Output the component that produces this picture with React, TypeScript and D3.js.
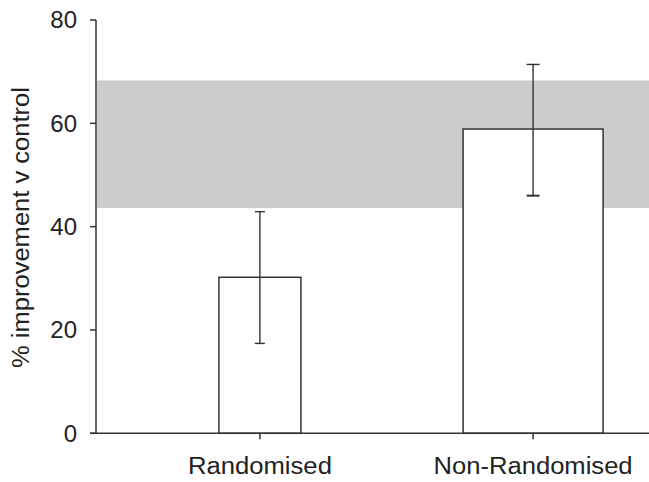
import React from "react";
import * as d3 from "d3";

const categories = ["Randomised", "Non-Randomised"];
const means = [30.2, 58.9];
const lowerCI = [17.4, 46.0];
const upperCI = [42.9, 71.4];
const referenceBand = [43.6, 68.3];
const yTicks = [0, 20, 40, 60, 80];

const W = 649;
const H = 482;
const left = 96;
const plotRight = 697;
const top = 20;
const bottom = 433.3;
const barWidths = [82, 140];
const capHalf = [5, 6.5];
const ink = "#333";
const font = "Liberation Sans, Arial, sans-serif";
const labelLen: Record<string, number> = { Randomised: 144, "Non-Randomised": 199 };

export default function App() {
  const x = d3.scalePoint<string>().domain(categories).range([left, plotRight]).padding(0.6);
  const y = d3.scaleLinear().domain([0, 80]).range([bottom, top]);
  const cx = (c: string) => x(c) as number;

  return (
    <svg
      width={W}
      height={H}
      style={{ position: "absolute", left: 0, top: 0, display: "block", background: "#fff" }}
    >
      <rect
        x={left + 1}
        y={y(referenceBand[1])}
        width={W - left - 1}
        height={y(referenceBand[0]) - y(referenceBand[1])}
        fill="#cccccc"
      />
      {categories.map((c, i) => {
        const w = barWidths[i];
        return (
          <rect
            key={c}
            x={cx(c) - w / 2}
            y={y(means[i])}
            width={w}
            height={y(0) - y(means[i])}
            fill="#fff"
            stroke={ink}
            strokeWidth={1.5}
          />
        );
      })}
      {categories.map((c, i) => (
        <g key={c + "e"} stroke={ink} strokeWidth={1.4}>
          <line x1={cx(c)} x2={cx(c)} y1={y(lowerCI[i])} y2={y(upperCI[i])} />
          <line x1={cx(c) - capHalf[i]} x2={cx(c) + capHalf[i]} y1={y(lowerCI[i])} y2={y(lowerCI[i])} strokeWidth={i === 1 ? 2 : 1.4} />
          <line x1={cx(c) - capHalf[i]} x2={cx(c) + capHalf[i]} y1={y(upperCI[i])} y2={y(upperCI[i])} />
        </g>
      ))}
      {/* y axis */}
      <line x1={left} x2={left} y1={y(0)} y2={y(80)} stroke={ink} strokeWidth={1.5} />
      {yTicks.map((t) => (
        <g key={t}>
          <line x1={left - 6} x2={left} y1={y(t)} y2={y(t)} stroke={ink} strokeWidth={1.5} />
          <text
            x={left - 19}
            y={y(t)}
            dy="0.35em"
            textAnchor="end"
            fontFamily={font}
            fontSize={24}
            fill="#222"
          >
            {t}
          </text>
        </g>
      ))}
      {/* x axis */}
      <line x1={left - 6} x2={W} y1={y(0)} y2={y(0)} stroke={ink} strokeWidth={1.5} />
      {categories.map((c) => (
        <g key={c + "t"}>
          <line x1={cx(c)} x2={cx(c)} y1={y(0)} y2={y(0) + 6} stroke={ink} strokeWidth={1.5} />
          <text
            x={cx(c)}
            y={474}
            textAnchor="middle"
            fontFamily={font}
            fontSize={23}
            fill="#222"
            textLength={labelLen[c]}
            lengthAdjust="spacingAndGlyphs"
          >
            {c}
          </text>
        </g>
      ))}
      <text
        transform={`translate(29, ${(87 + 368) / 2}) rotate(-90)`}
        textAnchor="middle"
        fontFamily={font}
        fontSize={23}
        fill="#222"
        textLength={281}
        lengthAdjust="spacingAndGlyphs"
      >
        % improvement v control
      </text>
    </svg>
  );
}
